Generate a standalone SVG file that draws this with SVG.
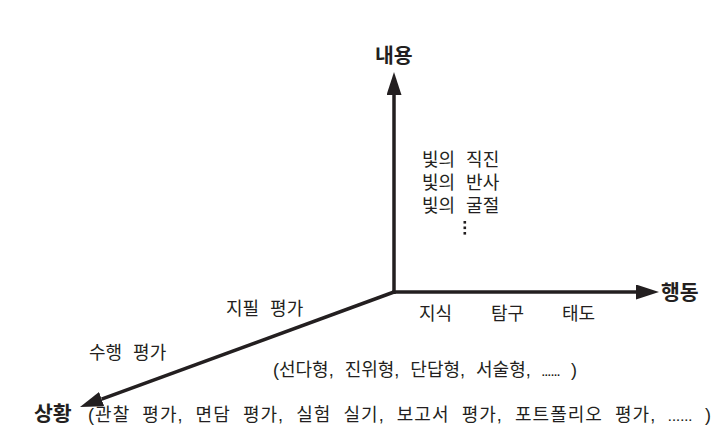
<svg xmlns="http://www.w3.org/2000/svg" width="722" height="443" viewBox="0 0 722 443">
<style>
text{font-family:"Liberation Sans","Noto Sans CJK KR",sans-serif;fill:#231f20}
.axis{font-size:20.5px;font-weight:bold}
.lbl{font-size:18px;word-spacing:6px}
.dots{font-weight:bold;font-size:11px;word-spacing:0}
.ax{stroke:#231f20;stroke-width:3.5;fill:none}
</style>
<defs>
<marker id="ah" markerUnits="userSpaceOnUse" viewBox="0 0 23 15" markerWidth="23" markerHeight="15" refX="0" refY="7.5" orient="auto">
<path d="M0,0 L23,7.5 L0,15 z" fill="#231f20"/>
</marker>
</defs>
<rect width="722" height="443" fill="#fff"/>
<g id="connectors">
<line class="ax" x1="394" y1="294" x2="394" y2="95" marker-end="url(#ah)"/>
<line class="ax" x1="392.5" y1="292" x2="636" y2="292" marker-end="url(#ah)"/>
<line class="ax" x1="394" y1="292" x2="101.6" y2="399.1" marker-end="url(#ah)"/>
</g>
<g id="content-axis">
<text class="axis" x="375" y="63">내용</text>
<text class="lbl" x="422" y="166">빛의 직진</text>
<text class="lbl" x="422" y="189">빛의 반사</text>
<text class="lbl" x="422" y="212">빛의 굴절</text>
<g fill="#231f20"><rect x="463.5" y="221" width="2.6" height="2.6"/><rect x="463.5" y="226.5" width="2.6" height="2.6"/><rect x="463.5" y="232" width="2.6" height="2.6"/></g>
</g>
<g id="behavior-axis">
<text class="axis" x="661" y="300">행동</text>
<text class="lbl" x="419" y="320">지식</text>
<text class="lbl" x="491" y="320">탐구</text>
<text class="lbl" x="562" y="320">태도</text>
</g>
<g id="situation-axis">
<text class="axis" x="34" y="421">상황</text>
<text class="lbl" x="226" y="315">지필 평가</text>
<text class="lbl" x="89" y="359">수행 평가</text>
<text class="lbl" x="273" y="376">(선다형, 진위형, 단답형, 서술형, <tspan class="dots">......</tspan> )</text>
<text class="lbl" x="88" y="421" textLength="623" lengthAdjust="spacing">(관찰 평가, 면담 평가, 실험 실기, 보고서 평가, 포트폴리오 평가, <tspan class="dots">......</tspan> )</text>
</g>
</svg>
